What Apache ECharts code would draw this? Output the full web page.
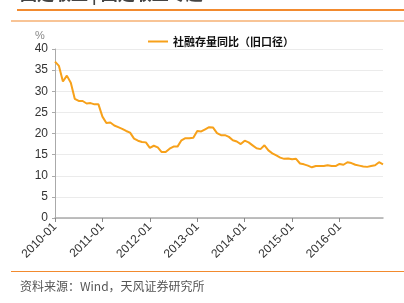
<!DOCTYPE html>
<html><head><meta charset="utf-8">
<script src="https://cdn.jsdelivr.net/npm/echarts@6/dist/echarts.min.js"></script>
<style>html,body{margin:0;padding:0;background:#fff}#c{width:404px;height:303px}</style>
</head><body><div id="c"></div>
<script>
var years = ['2010','2011','2012','2013','2014','2015','2016'];
var categories = [];
years.forEach(function(y){ for (var m=1;m<=12;m++){ categories.push(y+'-'+(m<10?'0'+m:m)); } });
var seriesName = '社融存量同比（旧口径）';
var values = [
 37.0,36.0,32.3,33.7,32.0,28.2,27.7,27.7,27.1,27.2,26.9,26.9,
 24.0,22.5,22.6,21.9,21.5,21.1,20.6,20.2,18.8,18.3,18.0,17.9,
 16.6,17.1,16.7,15.6,15.6,16.4,16.9,16.9,18.4,18.9,18.9,19.0,
 20.6,20.5,21.0,21.5,21.4,20.1,19.6,19.6,19.2,18.4,18.1,17.5,
 18.3,17.9,17.2,16.5,16.3,17.2,16.0,15.3,14.8,14.3,14.0,14.1,
 13.9,14.0,12.9,12.7,12.4,12.0,12.3,12.3,12.3,12.5,12.3,12.3,
 12.8,12.6,13.2,13.0,12.6,12.4,12.2,12.1,12.3,12.5,13.2,12.7
];
var yTicks = {min:0, max:40, interval:5};
var headerText = '固定收益 | 固定收益专题';
var sourceText = '资料来源：Wind，天风证券研究所';

var chart = echarts.init(document.getElementById('c'), null, {renderer:'canvas'});
chart.setOption({
  animation:false,
  textStyle:{fontFamily:'Liberation Sans, Noto Sans CJK SC, sans-serif'},
  grid:{left:55,right:21,top:49,bottom:85,containLabel:false},
  legend:{top:31,left:143,itemWidth:20,itemHeight:2,itemGap:4,icon:'rect',
    textStyle:{fontSize:11,color:'#111',fontWeight:'bold',fontFamily:'Noto Sans CJK SC, sans-serif'},
    data:[seriesName]},
  xAxis:{type:'category',data:categories,boundaryGap:false,
    axisLine:{lineStyle:{color:'#aaa',width:1.5}},
    axisTick:{show:true,interval:11,length:4,lineStyle:{color:'#888'}},
    axisLabel:{interval:11,rotate:45,fontSize:12,color:'#333',margin:7},
    splitLine:{show:false}},
  yAxis:{type:'value',min:yTicks.min,max:yTicks.max,interval:yTicks.interval,
    axisLine:{show:true,lineStyle:{color:'#aaa'}},
    axisTick:{show:true,length:3,lineStyle:{color:'#aaa'}},
    axisLabel:{fontSize:12,color:'#333',margin:7},
    splitLine:{lineStyle:{color:'#ebebeb'}}},
  series:[{name:seriesName,type:'line',data:values,symbol:'none',
    lineStyle:{color:'#F7A11A',width:2},itemStyle:{color:'#F7A11A'}}],
  graphic:[
    {type:'text',left:20,top:-15,style:{text:headerText,font:'bold 17px "Noto Sans CJK SC"',fill:'#444'}},
    {type:'rect',shape:{x:17,y:9,width:387,height:2},style:{fill:'#F28A2E'}},
    {type:'rect',shape:{x:11,y:20.5,width:393,height:1},style:{fill:'#F28A2E'}},
    {type:'text',left:35,top:30,style:{text:'%',font:'11px "Liberation Sans"',fill:'#888'}},
    {type:'rect',shape:{x:11,y:271,width:393,height:1},style:{fill:'#F28A2E'}},
    {type:'text',left:20,top:280,style:{text:sourceText,font:'12px "Noto Sans CJK SC"',fill:'#555'}}
  ]
});
</script></body></html>
